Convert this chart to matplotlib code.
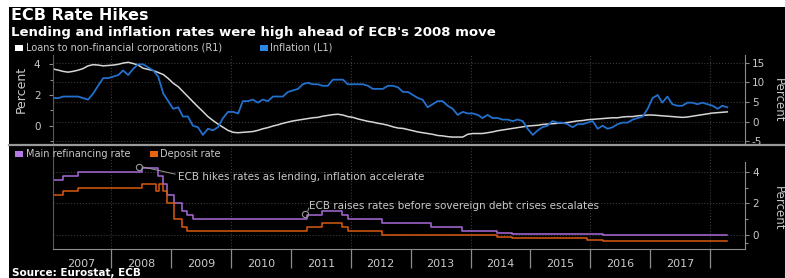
import matplotlib
matplotlib.use('Agg')
import matplotlib.pyplot as plt
import numpy as np
import pandas as pd
from matplotlib.patches import Rectangle
from matplotlib.lines import Line2D

# ---- data ----
# euro area inflation, % y/y, monthly Jan 2007 - Apr 2018 (left axis)
inflation = [
    1.8, 1.8, 1.9, 1.9, 1.9, 1.9, 1.8, 1.7, 2.1, 2.6, 3.1, 3.1,
    3.2, 3.3, 3.6, 3.3, 3.7, 4.0, 4.0, 3.8, 3.6, 3.2, 2.1, 1.6,
    1.1, 1.2, 0.6, 0.6, 0.0, -0.1, -0.6, -0.2, -0.3, -0.1, 0.5, 0.9,
    0.9, 0.8, 1.6, 1.6, 1.7, 1.5, 1.7, 1.6, 1.9, 1.9, 1.9, 2.2,
    2.3, 2.4, 2.7, 2.8, 2.7, 2.7, 2.6, 2.6, 3.0, 3.0, 3.0, 2.7,
    2.7, 2.7, 2.7, 2.6, 2.4, 2.4, 2.4, 2.6, 2.6, 2.5, 2.2, 2.2,
    2.0, 1.8, 1.7, 1.2, 1.4, 1.6, 1.6, 1.3, 1.1, 0.7, 0.9, 0.8,
    0.8, 0.7, 0.5, 0.7, 0.5, 0.5, 0.4, 0.4, 0.3, 0.4, 0.3, -0.2,
    -0.6, -0.3, -0.1, 0.0, 0.3, 0.2, 0.2, 0.1, -0.1, 0.1, 0.1, 0.2,
    0.3, -0.2, 0.0, -0.2, -0.1, 0.1, 0.2, 0.2, 0.4, 0.5, 0.6, 1.1,
    1.8, 2.0, 1.5, 1.9, 1.4, 1.3, 1.3, 1.5, 1.5, 1.4, 1.5, 1.4,
    1.3, 1.1, 1.3, 1.2,
]

# loans to non-financial corporations, % y/y, same months (right axis)
loans = [
    13.4, 13.1, 12.8, 12.6, 12.8, 13.1, 13.5, 14.2, 14.5, 14.4, 14.2, 14.3,
    14.4, 14.6, 14.9, 15.1, 14.8, 14.4, 13.6, 13.3, 13.0, 12.5, 12.0, 11.0,
    9.8, 8.9, 7.7, 6.4, 5.1, 3.8, 2.6, 1.3, 0.3, -0.6, -1.4, -2.2,
    -2.7, -2.8, -2.7, -2.6, -2.5, -2.2, -1.8, -1.5, -1.1, -0.8, -0.4, -0.1,
    0.2, 0.4, 0.6, 0.8, 1.0, 1.1, 1.4, 1.6, 1.8, 1.9, 1.7, 1.3,
    1.1, 0.7, 0.4, 0.1, -0.1, -0.4, -0.6, -0.9, -1.3, -1.6, -1.7, -2.0,
    -2.3, -2.6, -2.8, -3.0, -3.2, -3.5, -3.6, -3.8, -3.9, -3.9, -3.9, -3.2,
    -3.0, -3.0, -3.0, -2.8, -2.6, -2.3, -2.1, -1.9, -1.7, -1.5, -1.3, -1.1,
    -1.0, -0.9, -0.7, -0.6, -0.5, -0.4, -0.3, -0.2, 0.0, 0.2, 0.3, 0.5,
    0.6, 0.7, 0.8, 0.9, 1.0, 1.0, 1.2, 1.3, 1.3, 1.5, 1.6, 1.7,
    1.7, 1.6, 1.5, 1.4, 1.3, 1.2, 1.1, 1.2, 1.4, 1.6, 1.8, 2.0,
    2.2, 2.3, 2.4, 2.5,
]

first_month = '2007-01-01'

# ECB policy rates, %, value valid from the given date
refi_dates = ['2007-01-01', '2007-03-14', '2007-06-13', '2008-07-09', '2008-10-15',
              '2008-11-12', '2008-12-10', '2009-01-21', '2009-03-11', '2009-04-08',
              '2009-05-13', '2011-04-13', '2011-07-13', '2011-11-09', '2011-12-14',
              '2012-07-11', '2013-05-08', '2013-11-13', '2014-06-11', '2014-09-10',
              '2016-03-16', '2018-04-15']
refi_rate = [3.5, 3.75, 4.0, 4.25, 3.75, 3.25, 2.5, 2.0, 1.5, 1.25, 1.0, 1.25, 1.5,
             1.25, 1.0, 0.75, 0.5, 0.25, 0.15, 0.05, 0.0, 0.0]

depo_dates = ['2007-01-01', '2007-03-14', '2007-06-13', '2008-07-09', '2008-10-01',
              '2008-10-20', '2008-11-12', '2008-12-10', '2009-01-21', '2009-03-11',
              '2009-04-08', '2011-04-13', '2011-07-13', '2011-11-09', '2011-12-14',
              '2012-07-11', '2014-06-11', '2014-09-10', '2015-12-09', '2016-03-16',
              '2018-04-15']
depo_rate = [2.5, 2.75, 3.0, 3.25, 2.75, 3.25, 2.75, 2.0, 1.0, 0.5, 0.25, 0.5, 0.75,
             0.5, 0.25, 0.0, -0.1, -0.2, -0.3, -0.4, -0.4]

year_labels = ['2007', '2008', '2009', '2010', '2011', '2012', '2013', '2014',
               '2015', '2016', '2017']

hike_2008 = ('2008-06-20', 4.32)
hike_2011 = ('2011-04-01', 1.33)


def dec_year(dates):
    d = pd.DatetimeIndex(pd.to_datetime(dates))
    return np.asarray(d.year + (d.dayofyear - 1) / 365.25)


months = pd.date_range(first_month, periods=len(inflation), freq='MS') + pd.Timedelta(days=14)
xm = dec_year(months)
x_refi = dec_year(refi_dates)
x_depo = dec_year(depo_dates)

# ---- styling ----
BG = 'black'
TXT = '#c9c9c9'
SPINE = '#8c8c8c'
GRID = '#3a3a3a'
BLUE = '#2270cc'
WHITE = '#d6d6d6'
PURPLE = '#a86ad8'
ORANGE = '#d95a12'

W, H = 785, 278
fig = plt.figure(figsize=(W / 100, H / 100), dpi=100, facecolor='white')


def fx(px):
    return px / W


def fy(py):
    return 1 - py / H


# black canvas (white strip left and top like the screenshot)
fig.add_artist(Rectangle((fx(9), 0), 1, fy(7), transform=fig.transFigure,
                         facecolor=BG, edgecolor='none', zorder=-10))

x0, x1 = xm[0] - 0.005, 2018.58

# top panel
ax_l = fig.add_axes([fx(53), fy(145), fx(745 - 53), (145 - 55) / H])
ax_r = ax_l.twinx()
ax_l.set_zorder(ax_r.get_zorder() + 1)
ax_l.patch.set_visible(False)
ax_r.set_facecolor(BG)

ax_r.plot(xm, loans, color=WHITE, lw=1.1)
ax_l.plot(xm, inflation, color=BLUE, lw=1.3)

ax_l.set_xlim(x0, x1)
ax_l.set_ylim(-1.257, 4.606)
ax_r.set_ylim(-5.92, 16.96)
ax_l.set_yticks([0, 2, 4])
ax_l.set_yticks([-1, 1, 3], minor=True)
ax_r.set_yticks([-5, 0, 5, 10, 15])
ax_r.set_yticklabels(['-5', '0', '5', '10', '15'])

for a in (ax_l, ax_r):
    for s in a.spines.values():
        s.set_visible(False)
    a.tick_params(axis='x', length=0, labelbottom=False)
    a.tick_params(axis='y', which='both', colors=SPINE, labelcolor=TXT, labelsize=7.5,
                  length=3, width=0.8)
ax_l.spines['left'].set_visible(True)
ax_l.spines['left'].set_color('#5a5a5a')
ax_r.spines['right'].set_visible(True)
ax_r.spines['right'].set_color(SPINE)
ax_l.tick_params(axis='y', which='minor', length=2)
ax_l.tick_params(axis='y', pad=6)
ax_r.tick_params(axis='y', pad=2)
ax_r.yaxis.grid(True, color=GRID, ls=':', lw=0.8)
ax_r.set_axisbelow(True)
for yr in range(2008, 2019, 2):
    ax_r.axvline(yr, color=GRID, ls=':', lw=0.8, zorder=0)

ax_l.set_ylabel('Percent', color=TXT, fontsize=9)
ax_l.yaxis.set_label_coords(-0.036, 0.62)
fig.text(fx(778), fy(100), 'Percent', rotation=270, color=TXT, fontsize=8.5,
         ha='center', va='center')

# bottom panel
ax_b = fig.add_axes([fx(53), fy(249), fx(745 - 53), (249 - 147) / H])
ax_b.set_facecolor(BG)
ax_b.step(x_refi, refi_rate, where='post', color=PURPLE, lw=1.1)
ax_b.step(x_depo, depo_rate, where='post', color=ORANGE, lw=1.1)
ax_b.set_xlim(x0, x1)
ax_b.set_ylim(-0.885, 5.56)

ax_b.spines['top'].set_visible(False)
for side in ('left', 'bottom', 'right'):
    ax_b.spines[side].set_color(SPINE)
ax_b.spines['left'].set_color('#5a5a5a')
ax_b.spines['right'].set_bounds(-0.885, 4.62)
ax_b.yaxis.tick_right()
ax_b.set_yticks([0, 2, 4])
ax_b.set_yticks([-0.5, 1, 3], minor=True)
ax_b.tick_params(axis='y', which='both', colors=SPINE, labelcolor=TXT, labelsize=7.5,
                 length=3, width=0.8, pad=2)
ax_b.tick_params(axis='y', which='minor', length=2)
ax_b.yaxis.grid(True, color=GRID, ls=':', lw=0.8)
for yr in range(2008, 2019, 2):
    ax_b.axvline(yr, color=GRID, ls=':', lw=0.8, zorder=0)

ax_b.set_xticks(np.arange(2008, 2019))
ax_b.set_xticklabels([])
ax_b.set_xticks(np.arange(2007.5, 2018), minor=True)
ax_b.set_xticklabels(year_labels, minor=True)
ax_b.tick_params(axis='x', which='major', length=14, width=0.9, colors=SPINE)
ax_b.tick_params(axis='x', which='minor', length=0, pad=7.5, labelsize=8, labelcolor=TXT)
fig.text(fx(778), fy(208), 'Percent', rotation=270, color=TXT, fontsize=8.5,
         ha='center', va='center')

# annotations
for (d, v) in (hike_2008, hike_2011):
    ax_b.plot(dec_year([d]), [v], marker='o', ms=4.5, mfc='none', mec='#9a9a9a', mew=0.8)
ax_b.annotate('ECB hikes rates as lending, inflation accelerate',
              xy=(dec_year([hike_2008[0]])[0] + 0.04, hike_2008[1]),
              xytext=(2009.12, 3.68), color=TXT, fontsize=7.5, ha='left', va='center',
              arrowprops=dict(arrowstyle='-', color='#9a9a9a', lw=0.7,
                              relpos=(0, 0.7), shrinkA=0, shrinkB=1.5))
ax_b.annotate('ECB raises rates before sovereign debt crises escalates',
              xy=(dec_year([hike_2011[0]])[0] + 0.03, hike_2011[1] + 0.05),
              xytext=(2011.3, 1.83), color=TXT, fontsize=7.5, ha='left', va='center',
              arrowprops=dict(arrowstyle='-', color='#9a9a9a', lw=0.7,
                              relpos=(0, 0.3), shrinkA=0, shrinkB=1.5))

# separator between panels
fig.add_artist(Line2D([fx(9), 1], [fy(145), fy(145)], transform=fig.transFigure,
                      color='#9a9a9a', lw=1.6))

# legends
def legend_item(px, py, color, label):
    fig.add_artist(Rectangle((fx(px), fy(py + 3)), fx(8), 6 / H, transform=fig.transFigure,
                             facecolor=color, edgecolor='none'))
    fig.text(fx(px + 10.5), fy(py), label, color=TXT, fontsize=7, ha='left', va='center')


legend_item(15, 48, 'white', 'Loans to non-financial corporations (R1)')
legend_item(260, 48, '#2b86e8', 'Inflation (L1)')
legend_item(15, 154, '#b67ae6', 'Main refinancing rate')
legend_item(150, 154, '#e8650f', 'Deposit rate')

# titles and source
fig.text(fx(11), fy(20), 'ECB Rate Hikes', color='white', fontsize=11.5,
         fontweight='bold', ha='left', va='baseline')
fig.text(fx(11), fy(36.3), "Lending and inflation rates were high ahead of ECB's 2008 move",
         color='white', fontsize=9.5, fontweight='bold', ha='left', va='baseline')
fig.text(fx(12), fy(276.5), 'Source: Eurostat, ECB', color='white', fontsize=7.5,
         fontweight='bold', ha='left', va='baseline')

fig.savefig('out.png', dpi=100, facecolor=fig.get_facecolor())
